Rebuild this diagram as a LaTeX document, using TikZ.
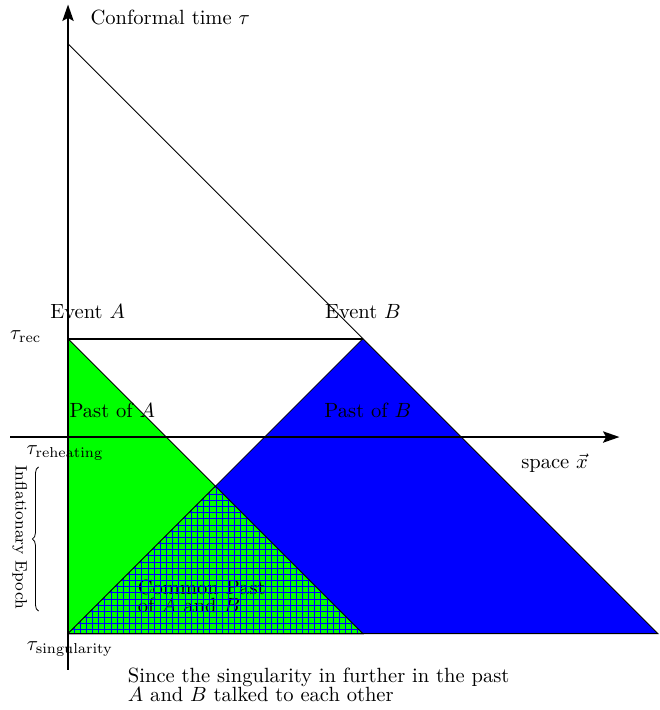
\documentclass[tikz,border=0pt]{standalone}
\usetikzlibrary{patterns,decorations.pathreplacing,arrows.meta}
\begin{document}
\begin{tikzpicture}[x=1.68cm,y=1.68cm,
		axis/.style={thick,-{Stealth[length=8pt,width=5.5pt,inset=1.5pt]}},
		twoline/.style={align=left,font=\fontsize{10}{9}\selectfont}]
	\useasboundingbox (-0.692,-2.777) rectangle (6.022,4.446);
	% events, cones and axes ends
	\coordinate (A) at (0,1);
	\coordinate (B) at (3,1);
	\coordinate (top) at (0,4);
	\coordinate (S) at (0,-2);
	\coordinate (M) at (3,-2);
	\coordinate (R) at (6,-2);
	\coordinate (X) at (1.5,-0.5);
	\coordinate (xmin) at (-0.59,0);
	\coordinate (xmax) at (5.61,0);
	\coordinate (ymin) at (0,-2.37);
	\coordinate (ymax) at (0,4.4);
	\coordinate (br0) at (-0.3,-1.77);
	\coordinate (br1) at (-0.3,-0.305);
	\begin{scope}
		\filldraw[fill=green] (A) -- (S) -- (M) -- cycle;
		\filldraw[fill=blue] (B) -- (S) -- (R) -- cycle;
		\fill[green] (S) -- (X) -- (M) -- cycle;
		\node[twoline] (common) at (1.36,-1.62) {Common Past\\of $A$ and $B$};
		\filldraw[pattern=grid, pattern color=blue] (S) -- (X) -- (M) -- cycle;
	\end{scope}
	\draw (top) -- (B);
	\draw[thick] (A) -- (B);
	\draw[axis] (xmin) -- (xmax);
	\draw[axis] (ymin) -- (ymax);
	\draw[decorate,decoration={brace,amplitude=3pt}] (br0) -- (br1);
	% labels
	\node (tlabel) at (1.04,4.27) {Conformal time $\tau$};
	\node (evA) at (0.2,1.28) {Event $A$};
	\node (evB) at (3,1.28) {Event $B$};
	\node (trec) at (-0.43,1.02) {$\tau_{\mathrm{rec}}$};
	\node (pastA) at (0.45,0.275) {Past of $A$};
	\node (pastB) at (3.05,0.275) {Past of $B$};
	\node (treh) at (-0.03,-0.163) {$\tau_{\mathrm{reheating}}$};
	\node (xlabel) at (4.95,-0.265) {space $\vec{x}$};
	\node[rotate=-90,font=\footnotesize] (infl) at (-0.49,-1.02) {Inflationary Epoch};
	\node (tsing) at (0.02,-2.16) {$\tau_{\mathrm{singularity}}$};
	\node[twoline] (note) at (2.55,-2.52) {Since the singularity in further in the past\\$A$ and $B$ talked to each other};
\end{tikzpicture}
\end{document}
